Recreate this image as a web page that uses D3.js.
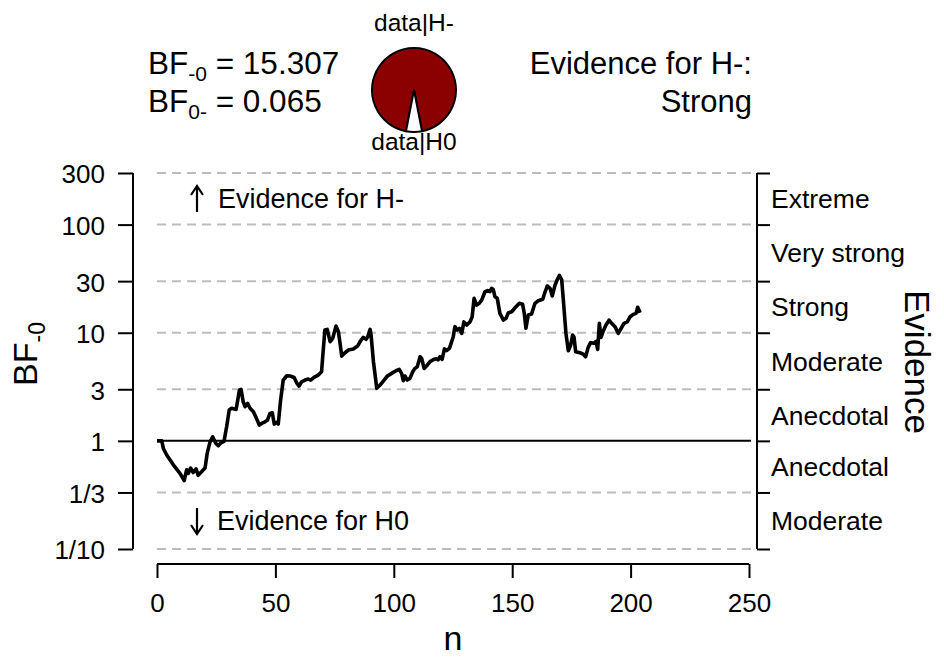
<!DOCTYPE html>
<html><head><meta charset="utf-8">
<script src="https://cdn.jsdelivr.net/npm/d3@7"></script>
<style>body{margin:0;background:#fff}text{font-family:"Liberation Sans",Arial,Helvetica,sans-serif}</style>
</head><body>
<svg id="c" width="944" height="657"></svg>
<script>
// ---- data ----
const nValues = [0,2,2.7,4.1,6.9,9.7,11.5,12.5,13.2,14.2,15.3,16.5,17.4,18.9,20.3,21.2,22.4,23.5,24.8,25.9,27.0,28.3,29.4,30.5,31.5,33.4,34.1,34.8,35.5,36.4,37.2,38.3,39.3,40.7,41.8,43.2,44.2,45.6,46.6,47.7,48.7,49.5,50.5,51.2,52.2,53.3,54.8,56.2,57.9,59.0,60.0,61.1,62.5,63.9,64.9,66.3,68.1,69.5,70.2,70.9,71.9,73.1,74.2,75.6,76.6,77.3,78.0,79.4,80.8,82.9,84.7,86.0,87.1,88.3,89.0,90.0,90.4,91.4,92.8,94.2,95.9,97.3,99.1,100.9,102.3,103.3,104.0,104.7,105.7,106.8,108.0,108.9,109.9,111.1,111.8,112.8,114.1,115.3,117.0,118.1,118.7,119.5,120.4,121.4,122.3,123.5,125.1,125.8,126.8,127.7,128.7,129.6,130.8,132.2,133.1,133.9,135.0,136.1,137.1,138.5,139.6,140.6,141.3,142.0,142.7,143.7,144.8,146.3,147.4,148.4,149.8,151.6,153.0,154.4,155.1,155.8,156.8,158.2,159.6,161.0,162.9,163.9,164.8,166.0,166.9,168.1,169.1,169.9,170.9,171.6,172.7,173.7,174.7,175.5,176.1,176.8,178.6,180.0,181.0,182.1,183.1,184.5,185.4,186.1,186.8,187.5,188.5,189.6,190.9,192.0,193.4,194.8,196.0,197.2,198.6,199.8,201.1,202.3,203.0,204.0];
const bfValues = [1.00,1.00,0.85,0.74,0.60,0.50,0.43,0.54,0.50,0.56,0.51,0.55,0.48,0.52,0.56,0.77,0.98,1.09,0.95,0.90,0.96,0.99,1.35,1.93,2.00,1.95,2.38,2.95,2.99,2.30,2.07,2.22,2.00,1.86,1.65,1.40,1.45,1.50,1.55,1.79,1.82,1.43,1.48,1.43,2.38,3.65,4.00,3.98,3.86,3.44,3.21,3.52,3.65,3.73,3.65,3.86,4.06,4.36,6.92,10.59,10.74,8.26,8.87,11.53,10.21,7.98,6.08,6.53,6.92,7.06,7.53,8.43,9.06,8.69,9.18,10.74,9.53,5.40,3.06,3.28,3.65,3.98,4.21,4.45,4.58,4.21,3.60,3.98,3.65,3.78,4.36,4.68,4.84,6.00,5.75,4.68,5.01,5.40,5.68,5.75,5.62,6.00,5.68,7.08,6.82,7.16,9.18,11.38,10.59,10.96,9.86,12.59,11.78,12.59,14.06,20.80,18.03,18.71,20.04,23.93,24.49,23.99,25.76,25.12,21.53,20.80,15.10,13.09,13.58,15.31,15.63,17.42,18.71,18.32,15.10,10.99,14.59,14.89,18.71,19.77,20.37,23.93,27.04,25.76,21.88,27.61,31.19,33.88,30.90,20.04,9.86,6.82,7.69,9.53,9.12,6.67,6.53,6.35,6.00,7.33,8.09,7.98,8.32,7.01,12.22,9.06,10.45,11.78,13.09,12.22,11.38,9.86,10.99,12.22,12.59,14.06,14.79,15.10,17.18,15.31];
const yTickValues = [0.1, 1/3, 1, 3, 10, 30, 100, 300];
const yTickLabels = ["1/10","1/3","1","3","10","30","100","300"];
const xTickValues = [0, 50, 100, 150, 200, 250];
const evidenceLabels = ["Moderate","Anecdotal","Anecdotal","Moderate","Strong","Very strong","Extreme"];
const bf10 = 15.307, bf01 = 0.065;
const pieLabels = ["data|H-", "data|H0"];
const pieValues = [15.307, 1];

// ---- drawing ----
const svg = d3.select("#c");
const x = d3.scaleLinear().domain([0, 250]).range([157, 749]);
const y = d3.scaleLog().domain([0.1, 300]).range([549, 173]);
const FS = 26;
const FF = '"Liberation Sans",Arial,Helvetica,sans-serif';

// gridlines
svg.append("g").selectAll("line").data(yTickValues).join("line")
  .attr("x1", x(0)).attr("x2", 751)
  .attr("y1", d => y(d)).attr("y2", d => y(d))
  .attr("stroke", d => d === 1 ? "#000" : "#bdbdbd")
  .attr("stroke-width", 2)
  .attr("stroke-dasharray", d => d === 1 ? null : "9,6");

// left axis
const yAxis = d3.axisLeft(y).tickValues(yTickValues).tickFormat((d, i) => yTickLabels[i]).tickSize(15).tickPadding(13);
const gy = svg.append("g").attr("transform", "translate(133,0)").call(yAxis);
gy.select(".domain").attr("d", `M0,${y(0.1)}V${y(300)}`).attr("stroke-width", 2);
gy.selectAll(".tick line").attr("stroke-width", 2);
gy.selectAll(".tick text").attr("font-size", FS).attr("fill", "#000").attr("font-family", FF).attr("dy", "0.38em");

// right axis
const rAxis = d3.axisRight(y).tickValues(yTickValues).tickFormat("").tickSize(13);
const gr = svg.append("g").attr("transform", "translate(757,0)").call(rAxis);
gr.select(".domain").attr("d", `M0,${y(0.1)}V${y(300)}`).attr("stroke-width", 2);
gr.selectAll(".tick line").attr("stroke-width", 2);
svg.append("g").selectAll("text").data(evidenceLabels).join("text")
  .attr("x", 771)
  .attr("y", (d, i) => y(Math.sqrt(yTickValues[i] * yTickValues[i + 1])))
  .attr("dy", "0.36em").attr("font-size", 26.5).text(d => d);

// x axis
const xAxis = d3.axisBottom(x).tickValues(xTickValues).tickSize(14).tickPadding(16);
const gx = svg.append("g").attr("transform", "translate(0,564)").call(xAxis);
gx.select(".domain").attr("d", `M${x(0)},0H${x(250)}`).attr("stroke-width", 2);
gx.selectAll(".tick line").attr("stroke-width", 2);
gx.selectAll(".tick text").attr("font-size", FS).attr("fill", "#000").attr("font-family", FF);

// titles
svg.append("text").attr("x", 453).attr("y", 650).attr("text-anchor", "middle").attr("font-size", 34).text("n");
const yt = svg.append("text").attr("transform", "translate(37,354) rotate(-90)").attr("text-anchor", "middle").attr("font-size", 34);
yt.append("tspan").text("BF");
yt.append("tspan").attr("font-size", 23).attr("dy", 8).text("-0");
svg.append("text").attr("transform", "translate(905,362) rotate(90)").attr("text-anchor", "middle").attr("font-size", 35).text("Evidence");

// annotations with arrows
function arrow(xp, y0, y1) {
  const dir = y1 < y0 ? 1 : -1;
  svg.append("path")
    .attr("d", `M${xp},${y0}V${y1}M${xp - 6},${y1 + dir * 9}L${xp},${y1}L${xp + 6},${y1 + dir * 9}`)
    .attr("fill", "none").attr("stroke", "#000").attr("stroke-width", 2.2);
}
arrow(197, 212, 186);
arrow(197, 508, 534);
svg.append("text").attr("x", 218).attr("y", 208).attr("font-size", 27).text("Evidence for H-");
svg.append("text").attr("x", 217).attr("y", 530).attr("font-size", 27).text("Evidence for H0");

// line
const line = d3.line().x((d, i) => x(nValues[i])).y(d => y(d));
svg.append("path").datum(bfValues).attr("d", line)
  .attr("fill", "none").attr("stroke", "#000").attr("stroke-width", 3.6).attr("stroke-linejoin", "round");

// top texts
function bfText(xp, yp, sub, val) {
  const t = svg.append("text").attr("x", xp).attr("y", yp).attr("font-size", 31.5);
  t.append("tspan").text("BF");
  t.append("tspan").attr("font-size", 21).attr("dy", 7).text(sub);
  t.append("tspan").attr("dy", -7).text(" = " + val);
}
bfText(148, 74, "-0", d3.format(".3f")(bf10));
bfText(148, 112, "0-", d3.format(".3f")(bf01));
svg.append("text").attr("x", 752).attr("y", 74).attr("text-anchor", "end").attr("font-size", 31).text("Evidence for H-:");
svg.append("text").attr("x", 752).attr("y", 112).attr("text-anchor", "end").attr("font-size", 31).text("Strong");

// pie
const pcx = 414, pcy = 90, pr = 42;
const total = d3.sum(pieValues);
const white = pieValues[1] / total * 2 * Math.PI;
const pie = d3.pie().sort(null).value(d => d).startAngle(Math.PI + white / 2).endAngle(3 * Math.PI + white / 2);
const arc = d3.arc().innerRadius(0).outerRadius(pr);
svg.append("g").attr("transform", `translate(${pcx},${pcy})`)
  .selectAll("path").data(pie(pieValues)).join("path")
  .attr("d", arc).attr("fill", (d, i) => i === 0 ? "#8b0000" : "#fff")
  .attr("stroke", "#000").attr("stroke-width", 2).attr("stroke-linejoin", "round");
svg.append("text").attr("x", pcx).attr("y", 31).attr("text-anchor", "middle").attr("font-size", 24.5).text(pieLabels[0]);
svg.append("text").attr("x", pcx).attr("y", 150).attr("text-anchor", "middle").attr("font-size", 24.5).text(pieLabels[1]);
</script>
</body></html>
